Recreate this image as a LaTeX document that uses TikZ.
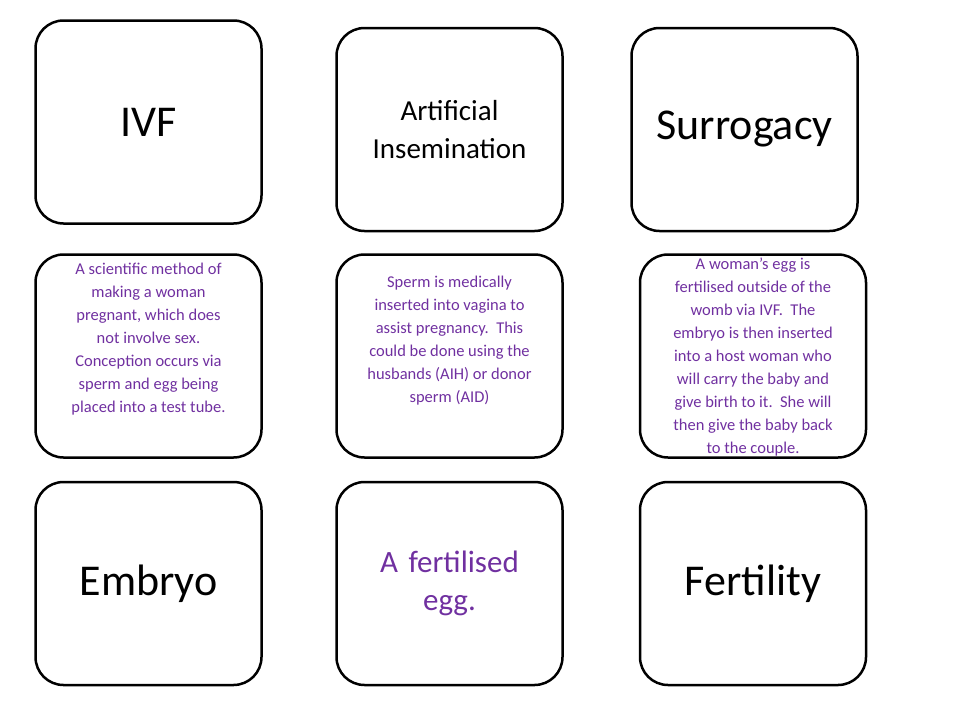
\documentclass[tikz,border=0pt]{standalone}
\usepackage{fontspec}
\setmainfont{Carlito}
\usetikzlibrary{positioning}
\definecolor{defpurple}{HTML}{7030A0}

\begin{document}
\begin{tikzpicture}[
    x=1pt, y=-1pt,
    card/.style={draw, line width=2.5pt, rounded corners=28pt, minimum width=226pt, minimum height=203pt, inner sep=0pt},
    term/.style={font=\fontsize{44}{50}\selectfont, align=center, text width=215pt},
    smallterm/.style={font=\fontsize{29}{38}\selectfont, align=center, text width=215pt},
    desc/.style={font=\fontsize{16.5}{23}\selectfont, text=defpurple, align=center, anchor=north}
]
    \useasboundingbox (0,0) rectangle (960,720);

    % Terms, top row
    \node[card, term] (ivf) at (148.5,122) {IVF};
    \node[card, smallterm] (ai) at (449.5,129.5) {Artificial\\Insemination};
    \node[card, term] (surr) at (744.5,129.5) {Surrogacy};

    % Definitions, middle row
    \node[card] (ivfdef) at (148.5,356) {};
    \node[card] (aidef) at (449.5,356) {};
    \node[card] (surrdef) at (753,356) {};
    \node[desc] (ivftxt) at ([yshift=-6pt]ivfdef.north) {A scientific method of\\making a woman\\pregnant, which does\\not involve sex.\\Conception occurs via\\sperm and egg being\\placed into a test tube.};
    \node[desc] (aitxt) at ([yshift=-19pt]aidef.north) {Sperm is medically\\inserted into vagina to\\assist pregnancy.\ \ This\\could be done using the\\husbands (AIH) or donor\\sperm (AID)};
    \node[desc] (surrtxt) at ([yshift=-1pt]surrdef.north) {A woman’s egg is\\fertilised outside of the\\womb via IVF.\ \ The\\embryo is then inserted\\into a host woman who\\will carry the baby and\\give birth to it.\ \ She will\\then give the baby back\\to the couple.};

    % Bottom row
    \node[card, term] (emb) at (148.5,583.5) {Embryo};
    \node[card, smallterm, font=\fontsize{31}{38}\selectfont, text=defpurple] (embdef) at (449.5,583.5) {A fertilised\\egg.};
    \node[card, term] (fert) at (753,583.5) {Fertility};
\end{tikzpicture}
\end{document}
